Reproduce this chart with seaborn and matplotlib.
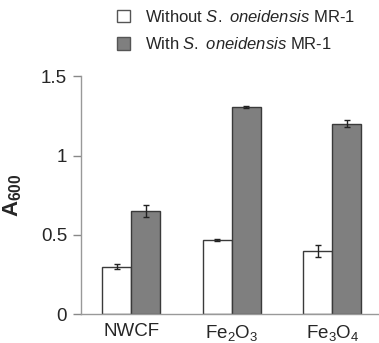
import numpy as np
import pandas as pd
import matplotlib
matplotlib.use("Agg")
import matplotlib.pyplot as plt
import seaborn as sns
from matplotlib.patches import Patch

# -------------------------------
# Data
# -------------------------------
materials = ["NWCF", "Fe$_2$O$_3$", "Fe$_3$O$_4$"]
groups = ["Without", "With"]
without_vals = [0.30, 0.47, 0.40]
without_err = [0.015, 0.006, 0.037]
with_vals = [0.65, 1.305, 1.20]
with_err = [0.037, 0.005, 0.022]
yticks = [0, 0.5, 1, 1.5]
ytick_labels = ["0", "0.5", "1", "1.5"]

df = pd.DataFrame({
    "material": materials * 2,
    "group": ["Without"] * 3 + ["With"] * 3,
    "A600": without_vals + with_vals,
})

# -------------------------------
# Style
# -------------------------------
sns.set_style("white")
plt.rcParams["font.family"] = ["Liberation Sans", "DejaVu Sans"]
plt.rcParams["mathtext.fontset"] = "custom"
plt.rcParams["mathtext.rm"] = "Liberation Sans"
plt.rcParams["mathtext.it"] = "Liberation Sans:italic"
plt.rcParams["mathtext.bf"] = "Liberation Sans:bold"

fig = plt.figure(figsize=(3.79, 3.43), dpi=100)
ax = fig.add_axes([0.2137, 0.0837, 0.7863, 0.6943])

colors = {"Without": "white", "With": "#7f7f7f"}
sns.barplot(data=df, x="material", y="A600", hue="group", order=materials,
            hue_order=groups, palette=colors, width=0.58, gap=0,
            edgecolor="#3a3a3a", linewidth=1.0, legend=False, ax=ax)

# error bars on top of each bar
errs = without_err + with_err
for patch, e in zip(ax.patches, errs):
    xc = patch.get_x() + patch.get_width() / 2
    ax.errorbar(xc, patch.get_height(), yerr=e, fmt="none",
                ecolor="#222222", elinewidth=1.0, capsize=2.5, capthick=1.0)

ax.set_xlim(-0.5, 2.465)
ax.set_ylim(0, 1.5)
ax.set_yticks(yticks)
ax.set_yticklabels(ytick_labels, fontsize=13.5)
ax.tick_params(axis="x", labelsize=13.5, length=0, pad=6)
ax.tick_params(axis="y", left=True, length=6, color="#888888", width=1, pad=4)
ax.set_xlabel("")
ax.set_ylabel(r"$\mathbf{A_{600}}$", fontsize=16, labelpad=12)

for s in ["top", "right"]:
    ax.spines[s].set_visible(False)
for s in ["left", "bottom"]:
    ax.spines[s].set_color("#999999")
    ax.spines[s].set_linewidth(1)

# legend
handles = [
    Patch(facecolor="white", edgecolor="#555555", linewidth=1),
    Patch(facecolor="#7f7f7f", edgecolor="#555555", linewidth=1),
]
labels = [r"Without $\it{S.\ oneidensis}$ MR-1", r"With $\it{S.\ oneidensis}$ MR-1"]
fig.legend(handles, labels, loc="upper left", bbox_to_anchor=(0.31, 0.975),
           frameon=False, fontsize=12, handlelength=0.75, handleheight=0.75,
           handletextpad=0.9, labelspacing=0.7, borderpad=0, borderaxespad=0)

fig.savefig("out.png", dpi=100)
